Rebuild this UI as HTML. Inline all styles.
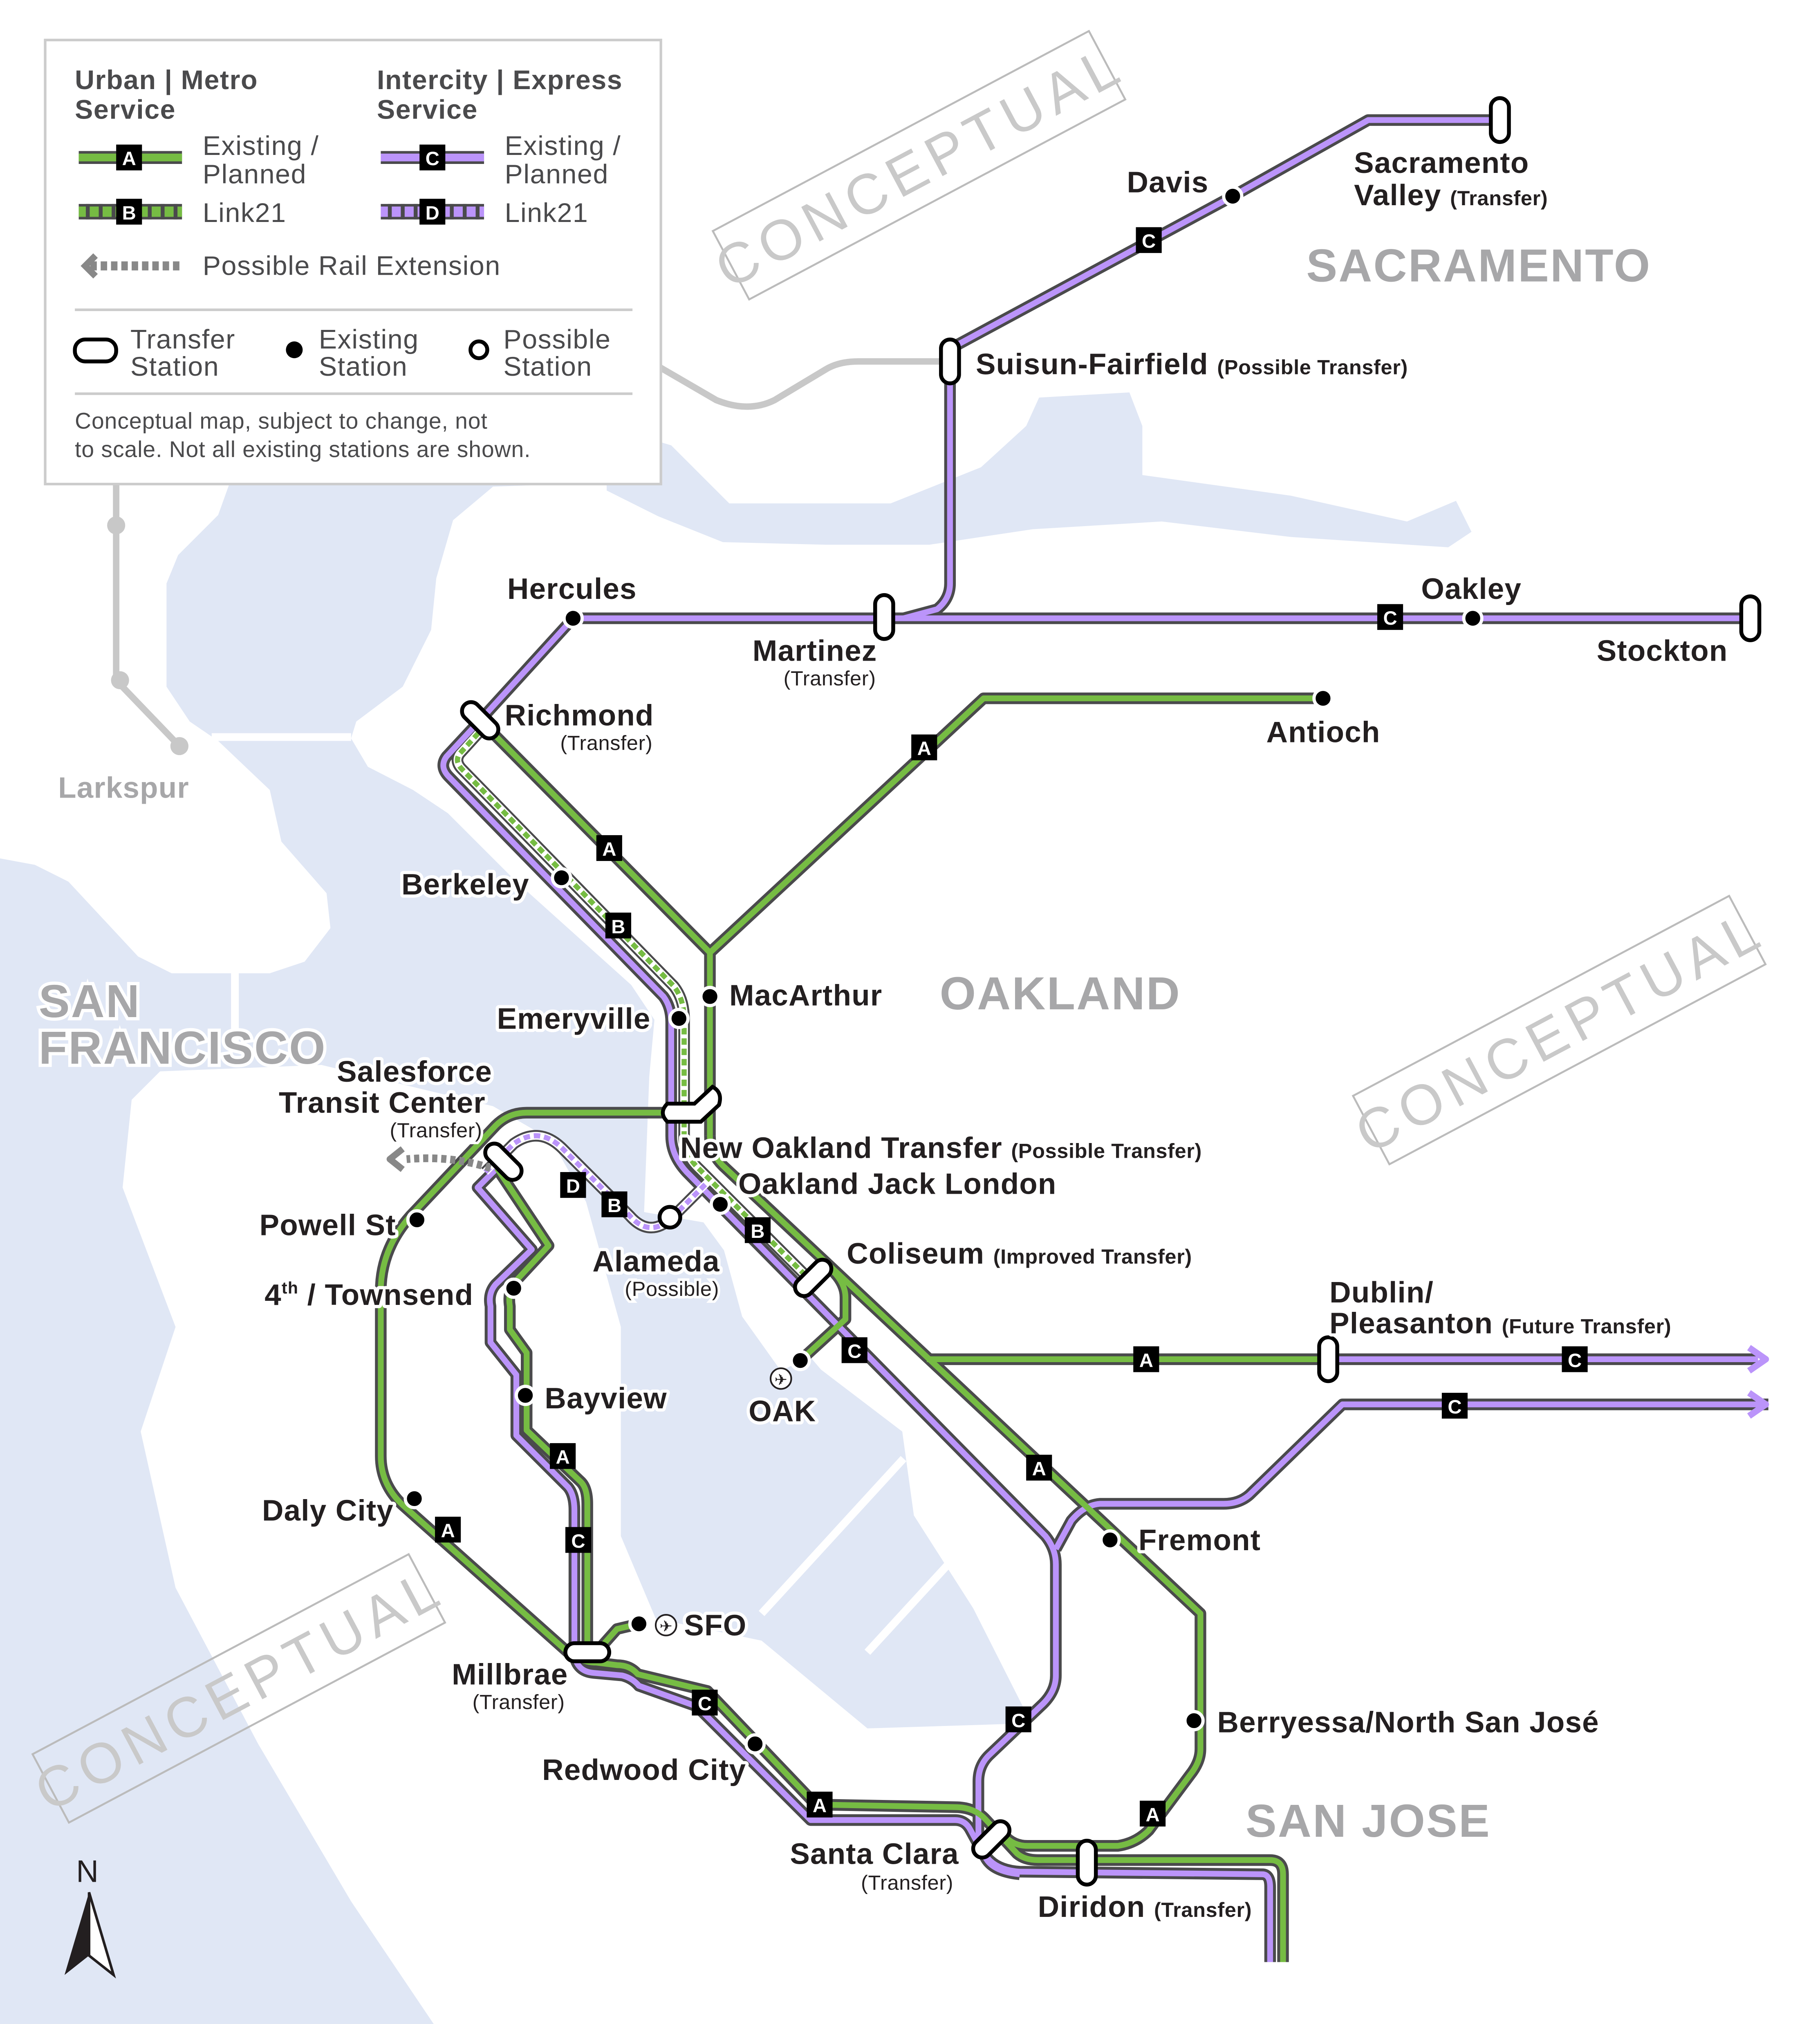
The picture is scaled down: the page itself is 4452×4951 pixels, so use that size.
<!DOCTYPE html>
<html><head><meta charset="utf-8">
<style>
html,body{margin:0;padding:0;background:#fff;}
svg{display:block;}
text{font-family:"Liberation Sans","DejaVu Sans",sans-serif;}
.lb{font-size:23px;fill:#231f20;font-weight:600;letter-spacing:0.4px;stroke:#fff;stroke-width:5px;paint-order:stroke;stroke-linejoin:round;}
.sm{font-size:16px;fill:#231f20;letter-spacing:0.2px;stroke:#fff;stroke-width:4px;paint-order:stroke;}
.rg{font-size:36px;font-weight:bold;fill:#a7a7a9;letter-spacing:1px;stroke:#fff;stroke-width:5px;paint-order:stroke;}
.lg{font-size:21px;fill:#4a4a4c;letter-spacing:0.5px;}
.lgb{font-size:21px;fill:#4a4a4c;font-weight:bold;letter-spacing:0.5px;}
.cp{font-size:44px;fill:#c9c9c9;letter-spacing:5px;}
</style></head>
<body>
<svg width="4452" height="4951" viewBox="0 0 1410 1568" preserveAspectRatio="none" xmlns="http://www.w3.org/2000/svg">
<defs>
<g id="cap"><rect x="-17" y="-7" width="34" height="14" rx="7" fill="#fff" stroke="#000" stroke-width="3"/></g>
</defs>
<rect width="1410" height="1568" fill="#fff"/>
<!-- water -->
<g fill="#e0e7f5">
<path d="M178,374 L467,374 L382,377 L351,403 L338,448 L334,488 L312,532 L276,559 L272,572 L285,594 L320,612 L347,630 L400,683 L489,763 L507,790 L503,834 L499,939 L545,947 L581,996 L636,1061 L699,1109 L708,1174 L754,1246 L799,1335 L672,1339 L590,1271 L508,1254 L481,1190 L481,1028 L454,931 L427,883 L382,857 L249,825 L124,830 L102,852 L95,920 L136,1028 L109,1109 L136,1230 L200,1351 L272,1473 L336,1568 L0,1568 L0,665 L27,670 L53,683 L107,741 L133,754 L209,754 L236,745 L256,719 L253,692 L218,652 L209,612 L169,574 L147,559 L129,532 L129,452 L138,430 L169,399 Z"/>
<path d="M470,330 L520,345 L565,390 L690,390 L760,362 L795,330 L805,308 L875,304 L885,330 L885,368 L1000,384 L1090,404 L1128,388 L1140,412 L1122,424 L1000,416 L900,404 L800,410 L720,422 L640,422 L560,420 L510,400 L470,380 Z"/>
</g>
<g fill="#fff"><path d="M558,958 L600,952 L640,1000 L650,1040 L605,1062 L575,1020 Z"/></g>
<g stroke="#fff" stroke-width="6" fill="none">
<path d="M182,752 L182,815"/>
<path d="M164,571 L272,571"/>
<path d="M590,1250 L700,1130"/><path d="M672,1280 L762,1182"/>
</g>
<!-- gray lines -->
<g stroke="#c8c8c8" stroke-width="5" fill="none" stroke-linecap="round">
<path d="M90,375 L90,527 L139,578"/>
<path d="M512,285 L555,310 Q580,320 600,310 L640,286 Q650,280 665,280 L736,280"/>
</g>
<g fill="#c8c8c8"><circle cx="90" cy="407" r="7"/><circle cx="93" cy="527" r="7"/><circle cx="139" cy="578" r="7"/></g>
<text x="45" y="618" class="lb" style="fill:#a7a7a9">Larkspur</text>

<!-- conceptual stamps -->
<g transform="translate(712,128) rotate(-28)"><rect x="-165" y="-30" width="330" height="60" fill="none" stroke="#bbb" stroke-width="1.5"/><text x="0" y="16" text-anchor="middle" class="cp">CONCEPTUAL</text></g>
<g transform="translate(1208,798) rotate(-28)"><rect x="-165" y="-30" width="330" height="60" fill="none" stroke="#bbb" stroke-width="1.5"/><text x="0" y="16" text-anchor="middle" class="cp">CONCEPTUAL</text></g>
<g transform="translate(185,1308) rotate(-28)"><rect x="-165" y="-30" width="330" height="60" fill="none" stroke="#bbb" stroke-width="1.5"/><text x="0" y="16" text-anchor="middle" class="cp">CONCEPTUAL</text></g>

<!-- region labels -->
<text x="1012" y="218" class="rg">SACRAMENTO</text>
<text x="728" y="782" class="rg">OAKLAND</text>
<text x="30" y="788" class="rg">SAN</text>
<text x="30" y="824" class="rg">FRANCISCO</text>
<text x="965" y="1423" class="rg">SAN JOSE</text>

<!-- routes -->
<g fill="none" stroke-linejoin="round" stroke-linecap="butt">
<g stroke="#4a4a4c" stroke-width="9">
<path id="p1" d="M1162,93 L1060,93 L955,152 L740,268 L736,280 L736,452 Q736,464 726,472 L700,479"/>
<path id="p2" d="M444,479 L1356,479"/>
<path id="p3" d="M444,479 L372,558 L346,586 Q340,594 348,602 L514,772 Q520,780 520,792 L520,880 Q520,895 532,908 L810,1190 Q818,1200 818,1212 L818,1298 Q818,1310 808,1320 L766,1360 Q758,1368 758,1380 L758,1420 Q760,1448 790,1450 L978,1452 Q984,1452 984,1462 L984,1520"/>
<path id="p4" d="M1370,1088 L1040,1088 L968,1158 Q960,1165 948,1165 L852,1165 Q840,1166 830,1178 L818,1200"/>
<path id="p5" d="M1030,1053 L1362,1053"/>
<path id="p6" d="M385,905 L370,920 L412,968 L384,995 Q378,1002 380,1012 L380,1040 L400,1065 L400,1112 L440,1152 Q445,1158 445,1170 L445,1282 Q447,1295 460,1296 L482,1298 Q490,1300 495,1306 L540,1322 L628,1410 L740,1410 Q748,1410 752,1418 L764,1440 Q770,1450 790,1452"/>
<path id="g1" d="M1025,541 L762,541 L550,738 L550,880"/>
<path id="g2" d="M372,558 L550,738"/>
<path id="g3" d="M550,880 Q550,893 560,903 L930,1250 L930,1355 Q930,1365 922,1375 L890,1418 Q880,1428 866,1430 L796,1430 Q785,1430 778,1422"/>
<path id="g4" d="M640,980 Q655,992 655,1005 L655,1022 L620,1054"/>
<path id="g5" d="M718,1053 L1030,1053"/>
<path id="g6" d="M530,862 L408,862 Q394,862 384,872 L318,942 Q295,968 295,1000 L295,1128 Q295,1150 312,1166 L440,1280 Q450,1288 462,1288 L478,1290 Q488,1290 494,1297 L548,1310 L632,1398 L740,1400 Q755,1400 764,1410 L788,1436 Q794,1441 804,1441 L984,1441 Q994,1441 994,1452 L994,1520"/>
<path id="g7" d="M385,905 L425,965 L400,992 Q393,1000 395,1012 L395,1030 L408,1048 L408,1108 L450,1148 Q455,1153 455,1165 L455,1282"/>
<path id="g8" d="M495,1258 L478,1262 L462,1280"/>
<path id="l1" d="M376,562 L356,584 Q352,590 358,596 L522,764 Q530,774 530,790 L530,880 Q530,895 542,906 L622,986"/>
<path id="l2" d="M376,908 L398,886 Q418,872 436,890 L488,942 Q504,960 522,942 L548,916"/>
</g>
<g stroke-width="4.5">
<use href="#p1" stroke="#bb94fa"/><use href="#p2" stroke="#bb94fa"/><use href="#p3" stroke="#bb94fa"/><use href="#p4" stroke="#bb94fa"/><use href="#p5" stroke="#bb94fa"/><use href="#p6" stroke="#bb94fa"/>
<use href="#g1" stroke="#76bc43"/><use href="#g2" stroke="#76bc43"/><use href="#g3" stroke="#76bc43"/><use href="#g4" stroke="#76bc43"/><use href="#g5" stroke="#76bc43"/><use href="#g6" stroke="#76bc43"/><use href="#g7" stroke="#76bc43"/><use href="#g8" stroke="#76bc43"/>
</g>
<g stroke="#fff" stroke-width="6"><use href="#l1"/><use href="#l2"/></g>
<g stroke="#76bc43" stroke-width="4" stroke-dasharray="5 3"><use href="#l1"/></g>
<g stroke="#bb94fa" stroke-width="4" stroke-dasharray="5 3"><use href="#l2"/></g>
<!-- possible extension -->
<path d="M380,905 Q350,895 315,898" stroke="#888" stroke-width="6" stroke-dasharray="4 3"/>
<path d="M312,890 L302,898 L312,906" stroke="#888" stroke-width="5"/>
<!-- arrows -->
<path d="M1355,1044 L1368,1053 L1355,1062" stroke="#bb94fa" stroke-width="5"/>
<path d="M1355,1079 L1368,1088 L1355,1097" stroke="#bb94fa" stroke-width="5"/>
</g>

<!-- stations -->
<g fill="#000" stroke="#fff" stroke-width="2.5">
<circle cx="955" cy="152" r="7"/><circle cx="444" cy="479" r="7"/><circle cx="1141" cy="479" r="7"/><circle cx="1025" cy="541" r="7"/>
<circle cx="435" cy="680" r="7"/><circle cx="550" cy="772" r="7"/><circle cx="526" cy="789" r="7"/><circle cx="558" cy="933" r="7"/>
<circle cx="323" cy="945" r="7"/><circle cx="398" cy="998" r="7"/><circle cx="407" cy="1081" r="7"/><circle cx="321" cy="1161" r="7"/>
<circle cx="495" cy="1258" r="7"/><circle cx="585" cy="1351" r="7"/><circle cx="860" cy="1193" r="7"/><circle cx="925" cy="1333" r="7"/><circle cx="620" cy="1054" r="7"/>
</g>
<circle cx="519" cy="943" r="8" fill="#fff" stroke="#000" stroke-width="3"/>
<circle cx="582" cy="915" r="7" fill="#fff" stroke="#76bc43" stroke-width="3"/>
<!-- transfers -->
<use href="#cap" transform="translate(1162,93) rotate(90)"/>
<use href="#cap" transform="translate(736,280) rotate(90)"/>
<use href="#cap" transform="translate(685,478) rotate(90)"/>
<use href="#cap" transform="translate(1356,479) rotate(90)"/>
<use href="#cap" transform="translate(372,558) rotate(45)"/>
<use href="#cap" transform="translate(390,900) rotate(45)"/>
<use href="#cap" transform="translate(630,990) rotate(-45)"/>
<use href="#cap" transform="translate(1029,1053) rotate(90)"/>
<use href="#cap" transform="translate(455,1280)"/>
<use href="#cap" transform="translate(768,1425) rotate(-45)"/>
<use href="#cap" transform="translate(842,1443) rotate(90)"/>
<path d="M517,855 L538,855 L552,842 Q560,846 557,856 L543,869 L517,869 Q510,862 517,855 Z" fill="#fff" stroke="#000" stroke-width="3"/>

<!-- badges -->
<g style="font-family:'Liberation Sans',sans-serif" font-size="15" font-weight="bold" text-anchor="middle">
<rect x="880" y="176" width="20" height="20"/><text x="890" y="192" fill="#fff">C</text>
<rect x="1067" y="468" width="20" height="20"/><text x="1077" y="484" fill="#fff">C</text>
<rect x="706" y="569" width="20" height="20"/><text x="716" y="585" fill="#fff">A</text>
<rect x="462" y="647" width="20" height="20"/><text x="472" y="663" fill="#fff">A</text>
<rect x="469" y="707" width="20" height="20"/><text x="479" y="723" fill="#fff">B</text>
<rect x="434" y="908" width="20" height="20"/><text x="444" y="924" fill="#fff">D</text>
<rect x="466" y="923" width="20" height="20"/><text x="476" y="939" fill="#fff">B</text>
<rect x="577" y="943" width="20" height="20"/><text x="587" y="959" fill="#fff">B</text>
<rect x="652" y="1036" width="20" height="20"/><text x="662" y="1052" fill="#fff">C</text>
<rect x="878" y="1043" width="20" height="20"/><text x="888" y="1059" fill="#fff">A</text>
<rect x="1210" y="1043" width="20" height="20"/><text x="1220" y="1059" fill="#fff">C</text>
<rect x="1117" y="1079" width="20" height="20"/><text x="1127" y="1095" fill="#fff">C</text>
<rect x="795" y="1127" width="20" height="20"/><text x="805" y="1143" fill="#fff">A</text>
<rect x="426" y="1118" width="20" height="20"/><text x="436" y="1134" fill="#fff">A</text>
<rect x="438" y="1183" width="20" height="20"/><text x="448" y="1199" fill="#fff">C</text>
<rect x="337" y="1175" width="20" height="20"/><text x="347" y="1191" fill="#fff">A</text>
<rect x="536" y="1309" width="20" height="20"/><text x="546" y="1325" fill="#fff">C</text>
<rect x="625" y="1388" width="20" height="20"/><text x="635" y="1404" fill="#fff">A</text>
<rect x="779" y="1322" width="20" height="20"/><text x="789" y="1338" fill="#fff">C</text>
<rect x="883" y="1395" width="20" height="20"/><text x="893" y="1411" fill="#fff">A</text>
</g>

<!-- labels -->
<text x="1049" y="134" class="lb">Sacramento</text>
<text x="1049" y="159" class="lb">Valley <tspan class="sm">(Transfer)</tspan></text>
<text x="873" y="149" class="lb">Davis</text>
<text x="756" y="290" class="lb">Suisun-Fairfield <tspan class="sm">(Possible Transfer)</tspan></text>
<text x="393" y="464" class="lb">Hercules</text>
<text x="583" y="512" class="lb">Martinez</text>
<text x="607" y="531" class="sm">(Transfer)</text>
<text x="1101" y="464" class="lb">Oakley</text>
<text x="1237" y="512" class="lb">Stockton</text>
<text x="391" y="562" class="lb">Richmond</text>
<text x="434" y="581" class="sm">(Transfer)</text>
<text x="981" y="575" class="lb">Antioch</text>
<text x="311" y="693" class="lb">Berkeley</text>
<text x="565" y="779" class="lb">MacArthur</text>
<text x="385" y="797" class="lb">Emeryville</text>
<text x="261" y="838" class="lb">Salesforce</text>
<text x="216" y="862" class="lb">Transit Center</text>
<text x="302" y="881" class="sm">(Transfer)</text>
<text x="527" y="897" class="lb">New Oakland Transfer <tspan class="sm">(Possible Transfer)</tspan></text>
<text x="572" y="925" class="lb">Oakland Jack London</text>
<text x="656" y="979" class="lb">Coliseum <tspan class="sm">(Improved Transfer)</tspan></text>
<text x="201" y="957" class="lb">Powell St</text>
<text x="205" y="1011" class="lb">4<tspan font-size="13" dy="-9">th</tspan><tspan dy="9"> / Townsend</tspan></text>
<text x="459" y="985" class="lb">Alameda</text>
<text x="484" y="1004" class="sm">(Possible)</text>
<text x="1030" y="1009" class="lb">Dublin/</text>
<text x="1030" y="1033" class="lb">Pleasanton <tspan class="sm">(Future Transfer)</tspan></text>
<text x="580" y="1101" class="lb">OAK</text>
<circle cx="605" cy="1068" r="8" fill="#fff" stroke="#231f20" stroke-width="1.3"/>
<text x="605" y="1073" text-anchor="middle" font-size="12" fill="#231f20">✈</text>
<text x="422" y="1091" class="lb">Bayview</text>
<text x="203" y="1178" class="lb">Daly City</text>
<text x="882" y="1201" class="lb">Fremont</text>
<circle cx="516" cy="1259" r="8" fill="#fff" stroke="#231f20" stroke-width="1.3"/>
<text x="516" y="1264" text-anchor="middle" font-size="12" fill="#231f20">✈</text>
<text x="530" y="1267" class="lb">SFO</text>
<text x="350" y="1305" class="lb">Millbrae</text>
<text x="366" y="1324" class="sm">(Transfer)</text>
<text x="943" y="1342" class="lb">Berryessa/North San José</text>
<text x="420" y="1379" class="lb">Redwood City</text>
<text x="612" y="1444" class="lb">Santa Clara</text>
<text x="667" y="1464" class="sm">(Transfer)</text>
<text x="804" y="1485" class="lb">Diridon <tspan class="sm">(Transfer)</tspan></text>

<!-- north arrow -->
<text x="59" y="1458" font-size="24" fill="#231f20">N</text>
<path d="M69,1466 L50,1530 L69,1515 Z" fill="#231f20"/>
<path d="M69,1466 L88,1530 L69,1515 Z" fill="#fff" stroke="#231f20" stroke-width="2"/>

<!-- legend -->
<rect x="35" y="31" width="477" height="344" fill="#fff" stroke="#ccc" stroke-width="2"/>
<text x="58" y="69" class="lgb">Urban | Metro</text>
<text x="58" y="92" class="lgb">Service</text>
<text x="292" y="69" class="lgb">Intercity | Express</text>
<text x="292" y="92" class="lgb">Service</text>
<rect x="61" y="117" width="80" height="10" fill="#4a4a4c"/><rect x="61" y="119" width="80" height="6" fill="#76bc43"/>
<rect x="90" y="112" width="20" height="20"/><text x="100" y="128" fill="#fff" font-size="15" font-weight="bold" text-anchor="middle">A</text>
<text x="157" y="120" class="lg">Existing /</text><text x="157" y="142" class="lg">Planned</text>
<rect x="61" y="158" width="80" height="12" fill="#4a4a4c"/><rect x="61" y="160" width="80" height="8" fill="#76bc43"/>
<path d="M68,158 v12 M78,158 v12 M88,158 v12 M116,158 v12 M126,158 v12 M136,158 v12" stroke="#4a4a4c" stroke-width="3"/>
<rect x="90" y="154" width="20" height="20"/><text x="100" y="170" fill="#fff" font-size="15" font-weight="bold" text-anchor="middle">B</text>
<text x="157" y="172" class="lg">Link21</text>
<rect x="295" y="117" width="80" height="10" fill="#4a4a4c"/><rect x="295" y="119" width="80" height="6" fill="#bb94fa"/>
<rect x="325" y="112" width="20" height="20"/><text x="335" y="128" fill="#fff" font-size="15" font-weight="bold" text-anchor="middle">C</text>
<text x="391" y="120" class="lg">Existing /</text><text x="391" y="142" class="lg">Planned</text>
<rect x="295" y="158" width="80" height="12" fill="#4a4a4c"/><rect x="295" y="160" width="80" height="8" fill="#bb94fa"/>
<path d="M302,158 v12 M312,158 v12 M322,158 v12 M350,158 v12 M360,158 v12 M370,158 v12" stroke="#4a4a4c" stroke-width="3"/>
<rect x="325" y="154" width="20" height="20"/><text x="335" y="170" fill="#fff" font-size="15" font-weight="bold" text-anchor="middle">D</text>
<text x="391" y="172" class="lg">Link21</text>
<path d="M70,206 L141,206" stroke="#888" stroke-width="7" stroke-dasharray="5 3"/>
<path d="M74,198 L66,206 L74,214" stroke="#888" stroke-width="5" fill="none"/>
<text x="157" y="213" class="lg">Possible Rail Extension</text>
<line x1="58" y1="240" x2="490" y2="240" stroke="#ccc" stroke-width="2"/>
<rect x="58" y="263" width="32" height="17" rx="8" fill="#fff" stroke="#000" stroke-width="3"/>
<text x="101" y="270" class="lg">Transfer</text><text x="101" y="291" class="lg">Station</text>
<circle cx="228" cy="271" r="6.5" fill="#000"/>
<text x="247" y="270" class="lg">Existing</text><text x="247" y="291" class="lg">Station</text>
<circle cx="371" cy="271" r="6.5" fill="#fff" stroke="#000" stroke-width="3"/>
<text x="390" y="270" class="lg">Possible</text><text x="390" y="291" class="lg">Station</text>
<line x1="58" y1="305" x2="490" y2="305" stroke="#ccc" stroke-width="2"/>
<text x="58" y="332" font-size="17.5" fill="#4a4a4c" letter-spacing="0.3">Conceptual map, subject to change, not</text>
<text x="58" y="354" font-size="17.5" fill="#4a4a4c" letter-spacing="0.3">to scale. Not all existing stations are shown.</text>
</svg>
</body></html>
